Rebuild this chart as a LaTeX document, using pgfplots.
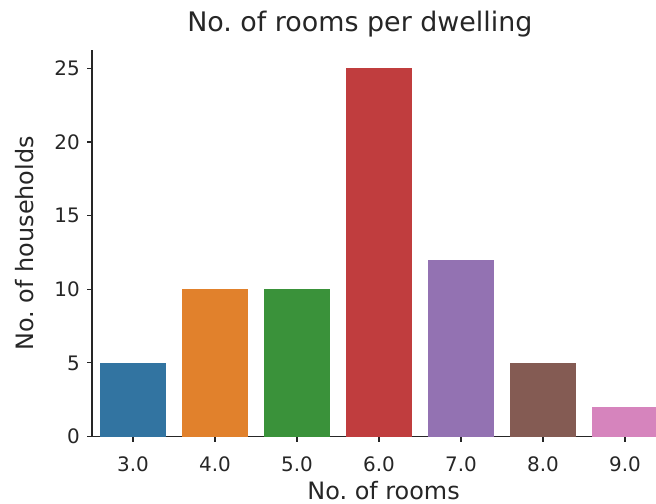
\documentclass[border=0pt]{standalone}
\usepackage{pgfplots}
\pgfplotsset{compat=1.18}
\usepackage{fontspec}
\setmainfont{DejaVu Sans}
\frenchspacing
\definecolor{c1}{HTML}{3274A1}
\definecolor{c2}{HTML}{E1812C}
\definecolor{c3}{HTML}{3A923A}
\definecolor{c4}{HTML}{C03D3E}
\definecolor{c5}{HTML}{9372B2}
\definecolor{c6}{HTML}{845B53}
\definecolor{c7}{HTML}{D684BD}
\definecolor{txt}{HTML}{262626}
\begin{document}
\begin{tikzpicture}
\path[use as bounding box] (0,0) rectangle (656bp,504bp);
\begin{axis}[
  at={(92bp,67.5bp)}, anchor=south west,
  scale only axis, width=564bp, height=386.5bp,
  xmin=-0.5, xmax=6.378, ymin=0, ymax=26.25,
  axis x line*=bottom, axis y line*=left,
  axis line style={txt, line width=1.2bp},
  x axis line style={-}, y axis line style={-},
  tick align=outside, major tick length=5bp,
  tick style={txt, line width=1.2bp},
  xtick={0,1,2,3,4,5,6},
  xticklabels={3.0,4.0,5.0,6.0,7.0,8.0,9.0},
  ytick={0,5,10,15,20,25},
  /pgf/number format/assume math mode=true,
  ticklabel style={font=\fontsize{20}{24}\selectfont, text=txt, inner sep=0pt},
  xticklabel style={anchor=north, yshift=-15bp},
  yticklabel style={anchor=east, xshift=-7bp},
  title={No. of rooms per dwelling},
  title style={at={(axis description cs:0.475,1.0336)}, anchor=base, font=\fontsize{27}{32}\selectfont, text=txt, inner sep=0pt},
  xlabel={No. of rooms},
  xlabel style={at={(axis description cs:0.517,-0.163)}, anchor=base, font=\fontsize{24}{29}\selectfont, text=txt, inner sep=0pt},
  ylabel={No. of households},
  ylabel style={at={(axis description cs:-0.1044,0.5)}, anchor=base, rotate=0, font=\fontsize{24}{29}\selectfont, text=txt, inner sep=0pt},
  ybar, bar width=0.8, bar shift=0pt,
  clip=true,
]
\addplot[fill=c1, draw=none] coordinates {(0,5)};
\addplot[fill=c2, draw=none] coordinates {(1,10)};
\addplot[fill=c3, draw=none] coordinates {(2,10)};
\addplot[fill=c4, draw=none] coordinates {(3,25)};
\addplot[fill=c5, draw=none] coordinates {(4,12)};
\addplot[fill=c6, draw=none] coordinates {(5,5)};
\addplot[fill=c7, draw=none] coordinates {(6,2)};
\end{axis}
\end{tikzpicture}
\end{document}
